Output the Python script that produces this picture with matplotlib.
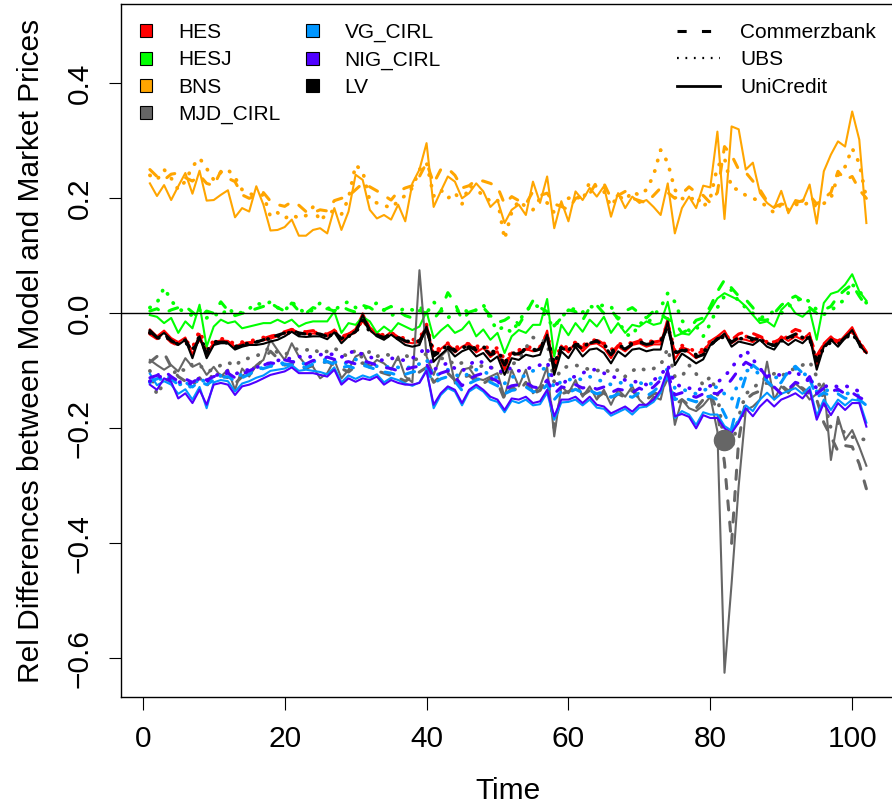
import matplotlib
matplotlib.use("Agg")
import matplotlib.pyplot as plt
from matplotlib.patches import Patch
from matplotlib.lines import Line2D

plt.rcParams['font.family'] = ['Liberation Sans', 'DejaVu Sans']

# time index 1..102
time = list(range(1, 103))

# ---- BNS (orange)
bns_cb = [0.250, 0.238, 0.232, 0.242, 0.244, 0.236, 0.230, 0.240, 0.226, 0.222,
          0.247, 0.235, 0.229, 0.206, 0.200, 0.205, 0.210, 0.195, 0.189, 0.186,
          0.194, 0.188, 0.177, 0.175, 0.180, 0.178, 0.196, 0.200, 0.204, 0.215,
          0.226, 0.220, 0.213, 0.205, 0.197, 0.212, 0.218, 0.222, 0.238, 0.262,
          0.226, 0.250, 0.252, 0.240, 0.218, 0.222, 0.232, 0.230, 0.226, 0.220,
          0.190, 0.203, 0.196, 0.190, 0.212, 0.205, 0.209, 0.190, 0.186, 0.180,
          0.200, 0.203, 0.208, 0.229, 0.226, 0.200, 0.205, 0.212, 0.200, 0.196,
          0.192, 0.205, 0.218, 0.210, 0.200, 0.208, 0.220, 0.210, 0.205, 0.192,
          0.210, 0.290, 0.275, 0.250, 0.245, 0.230, 0.215, 0.195, 0.185, 0.190,
          0.188, 0.192, 0.196, 0.205, 0.190, 0.200, 0.210, 0.247, 0.232, 0.238,
          0.215, 0.200]
bns_ubs = [0.240, 0.232, 0.250, 0.235, 0.215, 0.230, 0.255, 0.270, 0.252, 0.232,
           0.245, 0.250, 0.236, 0.215, 0.208, 0.205, 0.206, 0.168, 0.175, 0.165,
           0.172, 0.165, 0.170, 0.185, 0.160, 0.175, 0.178, 0.172, 0.200, 0.258,
           0.247, 0.196, 0.192, 0.188, 0.183, 0.195, 0.205, 0.218, 0.250, 0.262,
           0.204, 0.215, 0.200, 0.210, 0.190, 0.222, 0.215, 0.205, 0.195, 0.198,
           0.129, 0.176, 0.196, 0.185, 0.180, 0.200, 0.192, 0.175, 0.190, 0.200,
           0.205, 0.196, 0.229, 0.220, 0.212, 0.186, 0.205, 0.196, 0.212, 0.205,
           0.215, 0.240, 0.284, 0.262, 0.215, 0.200, 0.195, 0.205, 0.185, 0.200,
           0.255, 0.270, 0.218, 0.215, 0.205, 0.200, 0.195, 0.185, 0.175, 0.190,
           0.180, 0.190, 0.186, 0.195, 0.185, 0.191, 0.200, 0.240, 0.255, 0.287,
           0.261, 0.200]
bns_uc = [0.226, 0.204, 0.223, 0.197, 0.221, 0.244, 0.208, 0.248, 0.196, 0.197,
          0.206, 0.214, 0.167, 0.183, 0.177, 0.221, 0.189, 0.144, 0.145, 0.150,
          0.163, 0.135, 0.135, 0.145, 0.148, 0.139, 0.183, 0.145, 0.177, 0.241,
          0.232, 0.180, 0.165, 0.171, 0.163, 0.189, 0.160, 0.226, 0.250, 0.296,
          0.185, 0.212, 0.238, 0.229, 0.200, 0.209, 0.226, 0.212, 0.185, 0.197,
          0.157, 0.180, 0.189, 0.171, 0.229, 0.192, 0.238, 0.148, 0.195, 0.160,
          0.212, 0.197, 0.218, 0.203, 0.221, 0.168, 0.209, 0.183, 0.203, 0.192,
          0.197, 0.185, 0.171, 0.226, 0.139, 0.183, 0.203, 0.183, 0.222, 0.219,
          0.316, 0.164, 0.325, 0.320, 0.250, 0.262, 0.209, 0.192, 0.183, 0.213,
          0.174, 0.197, 0.194, 0.224, 0.156, 0.247, 0.276, 0.299, 0.290, 0.351,
          0.302, 0.157]

# ---- HESJ (green)
hesj_cb = [0.004, 0.008, 0.000, 0.006, 0.010, 0.012, 0.002, -0.008, 0.004, 0.000,
           0.020, 0.005, -0.004, 0.000, 0.004, 0.008, 0.012, 0.018, 0.010, 0.004,
           0.018, 0.004, 0.000, 0.010, 0.006, 0.008, 0.004, 0.012, 0.006, 0.002,
           0.014, 0.010, 0.002, 0.006, 0.012, 0.004, -0.004, -0.008, 0.005, 0.000,
           -0.010, 0.005, 0.036, 0.018, -0.012, 0.002, 0.006, 0.010, -0.004, -0.016,
           -0.012, -0.004, -0.020, 0.000, 0.022, 0.010, 0.003, -0.022, -0.008, 0.006,
           0.003, -0.012, 0.010, 0.014, 0.000, 0.006, -0.010, 0.004, 0.010, 0.000,
           -0.008, 0.004, -0.002, -0.010, -0.016, -0.034, -0.028, -0.012, -0.008, 0.012,
           0.038, 0.058, 0.044, 0.030, 0.024, 0.010, -0.011, -0.012, 0.000, 0.014,
           0.024, 0.030, 0.022, 0.010, 0.000, 0.006, 0.012, 0.030, 0.041, 0.050,
           0.030, 0.012]
hesj_ubs = [0.010, 0.018, 0.045, 0.022, 0.008, 0.002, -0.004, 0.006, -0.008, 0.000,
            -0.006, 0.010, -0.002, 0.002, 0.008, 0.018, 0.014, 0.020, 0.010, 0.004,
            0.020, 0.008, 0.000, 0.006, 0.018, 0.010, 0.004, 0.016, 0.020, 0.010,
            0.008, 0.012, 0.018, 0.006, -0.004, 0.002, 0.010, 0.006, 0.012, 0.000,
            0.020, 0.006, -0.008, 0.002, 0.010, 0.000, 0.006, 0.015, -0.010, -0.030,
            -0.022, -0.034, -0.014, 0.004, 0.016, 0.010, -0.010, -0.024, -0.006, 0.004,
            0.009, 0.002, 0.012, 0.010, 0.015, 0.012, -0.010, -0.036, -0.040, -0.016,
            -0.020, -0.004, 0.010, 0.035, 0.020, -0.012, -0.030, -0.022, -0.040, -0.018,
            0.010, 0.030, 0.041, 0.020, 0.010, 0.000, -0.008, -0.004, 0.004, 0.000,
            0.012, 0.020, 0.028, 0.020, 0.006, -0.002, 0.004, 0.016, 0.024, 0.050,
            0.040, 0.018]
hesj_uc = [-0.003, -0.006, -0.017, -0.008, -0.034, -0.014, -0.026, 0.015, -0.058, -0.023,
           -0.011, -0.017, -0.014, -0.026, -0.023, -0.020, -0.017, -0.017, -0.011, -0.017,
           -0.011, -0.023, -0.017, -0.014, -0.014, -0.014, 0.003, -0.034, -0.017, -0.020,
           -0.006, -0.014, -0.034, -0.023, -0.032, -0.017, -0.023, -0.029, -0.023, 0.003,
           -0.043, -0.030, -0.020, -0.034, -0.028, -0.014, -0.040, -0.028, -0.046, -0.034,
           -0.069, -0.040, -0.029, -0.034, -0.020, -0.020, 0.025, -0.075, -0.020, -0.038,
           -0.017, -0.032, -0.011, -0.023, -0.006, -0.034, -0.017, -0.034, -0.020, -0.023,
           -0.014, -0.020, -0.017, 0.020, -0.040, -0.035, -0.037, -0.023, -0.014, 0.006,
           0.026, 0.035, 0.029, 0.023, 0.012, -0.003, -0.017, -0.014, -0.023, 0.006,
           0.018, 0.000, -0.006, 0.006, -0.046, 0.018, 0.034, 0.038, 0.050, 0.068,
           0.038, 0.022]

# ---- HES (red)
hes_cb = [-0.036, -0.044, -0.038, -0.050, -0.056, -0.048, -0.066, -0.044, -0.068, -0.054,
          -0.050, -0.050, -0.060, -0.056, -0.054, -0.048, -0.044, -0.040, -0.036, -0.032,
          -0.028, -0.030, -0.032, -0.030, -0.034, -0.036, -0.030, -0.040, -0.036, -0.030,
          -0.012, -0.028, -0.036, -0.040, -0.036, -0.042, -0.046, -0.050, -0.048, -0.026,
          -0.070, -0.064, -0.056, -0.064, -0.060, -0.056, -0.062, -0.058, -0.070, -0.066,
          -0.086, -0.072, -0.068, -0.062, -0.064, -0.060, -0.040, -0.090, -0.060, -0.064,
          -0.052, -0.060, -0.050, -0.046, -0.054, -0.070, -0.056, -0.060, -0.052, -0.048,
          -0.052, -0.050, -0.048, -0.020, -0.070, -0.060, -0.064, -0.070, -0.066, -0.050,
          -0.044, -0.038, -0.046, -0.036, -0.032, -0.035, -0.040, -0.046, -0.050, -0.044,
          -0.036, -0.028, -0.032, -0.040, -0.074, -0.054, -0.044, -0.048, -0.040, -0.030,
          -0.048, -0.068]
hes_ubs = [-0.034, -0.040, -0.036, -0.046, -0.052, -0.046, -0.060, -0.030, -0.062, -0.048,
           -0.044, -0.046, -0.054, -0.050, -0.048, -0.046, -0.042, -0.040, -0.038, -0.034,
           -0.030, -0.036, -0.034, -0.032, -0.036, -0.038, -0.030, -0.042, -0.038, -0.032,
           -0.010, -0.030, -0.034, -0.038, -0.034, -0.040, -0.044, -0.046, -0.044, -0.020,
           -0.066, -0.060, -0.052, -0.060, -0.056, -0.052, -0.058, -0.054, -0.064, -0.060,
           -0.080, -0.068, -0.064, -0.058, -0.060, -0.058, -0.036, -0.084, -0.056, -0.060,
           -0.050, -0.056, -0.048, -0.046, -0.052, -0.064, -0.052, -0.056, -0.050, -0.046,
           -0.050, -0.048, -0.046, -0.018, -0.066, -0.056, -0.060, -0.068, -0.062, -0.048,
           -0.042, -0.036, -0.048, -0.040, -0.040, -0.044, -0.042, -0.050, -0.054, -0.046,
           -0.040, -0.036, -0.040, -0.042, -0.080, -0.056, -0.048, -0.050, -0.042, -0.032,
           -0.050, -0.070]
hes_uc = [-0.028, -0.040, -0.030, -0.043, -0.050, -0.042, -0.072, -0.036, -0.074, -0.050,
          -0.047, -0.048, -0.058, -0.052, -0.050, -0.050, -0.047, -0.044, -0.040, -0.034,
          -0.027, -0.034, -0.036, -0.035, -0.036, -0.040, -0.028, -0.047, -0.036, -0.027,
          0.000, -0.024, -0.035, -0.042, -0.032, -0.041, -0.050, -0.052, -0.050, -0.018,
          -0.075, -0.062, -0.052, -0.068, -0.058, -0.052, -0.068, -0.060, -0.076, -0.066,
          -0.098, -0.068, -0.072, -0.062, -0.066, -0.063, -0.030, -0.098, -0.056, -0.068,
          -0.050, -0.066, -0.054, -0.052, -0.060, -0.078, -0.058, -0.066, -0.055, -0.052,
          -0.058, -0.054, -0.054, -0.008, -0.080, -0.062, -0.068, -0.078, -0.070, -0.048,
          -0.040, -0.030, -0.052, -0.044, -0.046, -0.050, -0.040, -0.052, -0.056, -0.040,
          -0.048, -0.040, -0.046, -0.034, -0.090, -0.052, -0.040, -0.052, -0.038, -0.024,
          -0.050, -0.066]

# ---- MJD_CIRL (grey)
mjd_cb = [-0.085, -0.075, -0.069, -0.093, -0.110, -0.118, -0.125, -0.112, -0.128, -0.100,
          -0.108, -0.112, -0.122, -0.110, -0.100, -0.092, -0.080, -0.066, -0.078, -0.090,
          -0.088, -0.092, -0.096, -0.090, -0.087, -0.084, -0.090, -0.096, -0.102, -0.092,
          -0.086, -0.094, -0.100, -0.104, -0.108, -0.112, -0.118, -0.110, -0.102, -0.094,
          -0.120, -0.110, -0.104, -0.116, -0.112, -0.108, -0.118, -0.122, -0.114, -0.120,
          -0.150, -0.128, -0.136, -0.120, -0.140, -0.134, -0.112, -0.200, -0.140, -0.136,
          -0.130, -0.142, -0.134, -0.146, -0.138, -0.150, -0.140, -0.146, -0.134, -0.148,
          -0.150, -0.140, -0.138, -0.112, -0.160, -0.150, -0.160, -0.165, -0.150, -0.140,
          -0.170, -0.260, -0.400, -0.220, -0.150, -0.140, -0.135, -0.120, -0.130, -0.125,
          -0.135, -0.125, -0.130, -0.140, -0.150, -0.190, -0.214, -0.240, -0.230, -0.232,
          -0.262, -0.305]
mjd_ubs = [-0.100, -0.142, -0.120, -0.110, -0.095, -0.100, -0.088, -0.090, -0.101, -0.098,
           -0.090, -0.085, -0.092, -0.080, -0.078, -0.075, -0.066, -0.060, -0.068, -0.072,
           -0.065, -0.061, -0.064, -0.061, -0.070, -0.066, -0.060, -0.070, -0.075, -0.064,
           -0.078, -0.066, -0.075, -0.070, -0.074, -0.080, -0.072, -0.082, -0.078, -0.070,
           -0.085, -0.078, -0.080, -0.090, -0.086, -0.092, -0.096, -0.090, -0.094, -0.098,
           -0.110, -0.090, -0.080, -0.060, -0.042, -0.046, -0.050, -0.120, -0.096, -0.092,
           -0.090, -0.094, -0.098, -0.100, -0.096, -0.104, -0.098, -0.110, -0.100, -0.094,
           -0.100, -0.096, -0.090, -0.061, -0.110, -0.110, -0.090, -0.105, -0.125, -0.110,
           -0.140, -0.230, -0.237, -0.180, -0.140, -0.130, -0.120, -0.110, -0.105, -0.110,
           -0.100, -0.096, -0.090, -0.084, -0.110, -0.150, -0.200, -0.190, -0.210, -0.215,
           -0.218, -0.220]
mjd_uc = [-0.081, -0.090, -0.098, -0.090, -0.101, -0.078, -0.093, -0.087, -0.107, -0.093,
          -0.110, -0.098, -0.133, -0.096, -0.110, -0.090, -0.081, -0.046, -0.064, -0.081,
          -0.052, -0.075, -0.090, -0.093, -0.113, -0.104, -0.081, -0.113, -0.098, -0.075,
          -0.069, -0.093, -0.081, -0.087, -0.098, -0.075, -0.110, -0.120, 0.075, -0.075,
          -0.107, -0.075, -0.063, -0.122, -0.098, -0.095, -0.113, -0.116, -0.110, -0.104,
          -0.145, -0.098, -0.127, -0.098, -0.139, -0.127, -0.093, -0.214, -0.127, -0.139,
          -0.116, -0.145, -0.127, -0.150, -0.133, -0.159, -0.133, -0.145, -0.127, -0.150,
          -0.162, -0.145, -0.150, -0.098, -0.194, -0.150, -0.165, -0.170, -0.160, -0.145,
          -0.205, -0.625, -0.470, -0.300, -0.168, -0.162, -0.150, -0.084, -0.150, -0.127,
          -0.139, -0.122, -0.133, -0.150, -0.140, -0.122, -0.255, -0.180, -0.220, -0.203,
          -0.232, -0.265]

# ---- VG_CIRL (light blue)
vg_cb = [-0.118, -0.114, -0.106, -0.114, -0.124, -0.120, -0.128, -0.118, -0.124, -0.116,
         -0.112, -0.110, -0.118, -0.112, -0.106, -0.100, -0.096, -0.092, -0.094, -0.088,
         -0.090, -0.092, -0.094, -0.088, -0.086, -0.084, -0.088, -0.094, -0.092, -0.096,
         -0.090, -0.094, -0.098, -0.102, -0.104, -0.108, -0.106, -0.102, -0.100, -0.096,
         -0.122, -0.114, -0.110, -0.118, -0.134, -0.122, -0.116, -0.112, -0.120, -0.126,
         -0.140, -0.134, -0.132, -0.128, -0.136, -0.138, -0.124, -0.150, -0.136, -0.138,
         -0.132, -0.138, -0.134, -0.140, -0.136, -0.146, -0.140, -0.142, -0.146, -0.138,
         -0.144, -0.136, -0.124, -0.110, -0.150, -0.146, -0.150, -0.154, -0.146, -0.144,
         -0.150, -0.175, -0.200, -0.150, -0.110, -0.090, -0.100, -0.118, -0.130, -0.120,
         -0.100, -0.092, -0.104, -0.114, -0.146, -0.138, -0.144, -0.140, -0.148, -0.146,
         -0.150, -0.160]
vg_ubs = [-0.120, -0.116, -0.112, -0.120, -0.124, -0.122, -0.130, -0.110, -0.124, -0.114,
          -0.108, -0.106, -0.112, -0.106, -0.102, -0.098, -0.094, -0.090, -0.088, -0.086,
          -0.084, -0.086, -0.088, -0.084, -0.082, -0.080, -0.084, -0.088, -0.086, -0.080,
          -0.084, -0.088, -0.092, -0.094, -0.092, -0.094, -0.096, -0.092, -0.088, -0.080,
          -0.110, -0.104, -0.098, -0.106, -0.112, -0.104, -0.098, -0.100, -0.108, -0.112,
          -0.122, -0.110, -0.112, -0.108, -0.100, -0.098, -0.095, -0.130, -0.118, -0.116,
          -0.112, -0.116, -0.110, -0.116, -0.118, -0.124, -0.120, -0.122, -0.126, -0.120,
          -0.126, -0.120, -0.112, -0.096, -0.130, -0.132, -0.136, -0.140, -0.134, -0.130,
          -0.128, -0.140, -0.150, -0.120, -0.100, -0.098, -0.106, -0.116, -0.112, -0.110,
          -0.104, -0.096, -0.104, -0.110, -0.136, -0.132, -0.136, -0.134, -0.140, -0.138,
          -0.144, -0.150]
vg_uc = [-0.105, -0.125, -0.118, -0.124, -0.140, -0.132, -0.150, -0.128, -0.165, -0.120,
         -0.116, -0.118, -0.136, -0.122, -0.118, -0.112, -0.108, -0.100, -0.098, -0.096,
         -0.090, -0.100, -0.098, -0.100, -0.102, -0.106, -0.094, -0.120, -0.108, -0.114,
         -0.108, -0.112, -0.106, -0.120, -0.112, -0.116, -0.122, -0.126, -0.120, -0.098,
         -0.165, -0.142, -0.130, -0.136, -0.160, -0.136, -0.128, -0.136, -0.150, -0.154,
         -0.172, -0.152, -0.156, -0.150, -0.160, -0.158, -0.138, -0.185, -0.155, -0.154,
         -0.150, -0.160, -0.150, -0.164, -0.166, -0.178, -0.172, -0.166, -0.176, -0.164,
         -0.162, -0.154, -0.138, -0.100, -0.182, -0.170, -0.176, -0.194, -0.172, -0.176,
         -0.176, -0.196, -0.204, -0.186, -0.160, -0.170, -0.150, -0.138, -0.150, -0.140,
         -0.135, -0.130, -0.140, -0.128, -0.178, -0.150, -0.168, -0.150, -0.160, -0.150,
         -0.152, -0.190]

# ---- NIG_CIRL (purple)
nig_cb = [-0.112, -0.108, -0.100, -0.110, -0.118, -0.114, -0.120, -0.112, -0.116, -0.110,
          -0.107, -0.104, -0.112, -0.106, -0.100, -0.094, -0.090, -0.086, -0.088, -0.081,
          -0.084, -0.086, -0.088, -0.082, -0.080, -0.076, -0.080, -0.086, -0.084, -0.088,
          -0.082, -0.086, -0.090, -0.094, -0.096, -0.100, -0.098, -0.094, -0.092, -0.088,
          -0.112, -0.104, -0.100, -0.110, -0.126, -0.114, -0.108, -0.104, -0.112, -0.118,
          -0.132, -0.126, -0.124, -0.120, -0.128, -0.130, -0.116, -0.140, -0.128, -0.130,
          -0.124, -0.130, -0.126, -0.132, -0.128, -0.138, -0.132, -0.134, -0.138, -0.130,
          -0.136, -0.128, -0.116, -0.104, -0.142, -0.138, -0.142, -0.146, -0.140, -0.138,
          -0.140, -0.130, -0.115, -0.098, -0.085, -0.092, -0.095, -0.112, -0.128, -0.140,
          -0.132, -0.120, -0.124, -0.110, -0.140, -0.130, -0.136, -0.132, -0.140, -0.138,
          -0.146, -0.152]
nig_ubs = [-0.118, -0.112, -0.108, -0.116, -0.120, -0.118, -0.124, -0.112, -0.118, -0.110,
           -0.104, -0.100, -0.106, -0.100, -0.098, -0.094, -0.090, -0.086, -0.082, -0.080,
           -0.078, -0.075, -0.078, -0.074, -0.072, -0.070, -0.072, -0.076, -0.070, -0.064,
           -0.072, -0.076, -0.080, -0.082, -0.078, -0.080, -0.082, -0.078, -0.070, -0.058,
           -0.098, -0.092, -0.086, -0.096, -0.101, -0.090, -0.081, -0.086, -0.094, -0.098,
           -0.104, -0.093, -0.100, -0.098, -0.092, -0.090, -0.085, -0.120, -0.127, -0.112,
           -0.110, -0.104, -0.098, -0.098, -0.104, -0.110, -0.112, -0.116, -0.118, -0.120,
           -0.124, -0.116, -0.108, -0.090, -0.122, -0.128, -0.130, -0.134, -0.130, -0.126,
           -0.120, -0.110, -0.095, -0.078, -0.064, -0.080, -0.096, -0.110, -0.105, -0.108,
           -0.104, -0.100, -0.112, -0.118, -0.130, -0.128, -0.124, -0.128, -0.126, -0.130,
           -0.136, -0.140]
nig_uc = [-0.124, -0.133, -0.113, -0.119, -0.148, -0.139, -0.156, -0.133, -0.159, -0.124,
          -0.121, -0.124, -0.142, -0.127, -0.124, -0.119, -0.113, -0.107, -0.104, -0.101,
          -0.094, -0.104, -0.104, -0.104, -0.107, -0.110, -0.098, -0.124, -0.113, -0.119,
          -0.113, -0.116, -0.110, -0.124, -0.116, -0.121, -0.124, -0.124, -0.121, -0.100,
          -0.159, -0.139, -0.127, -0.133, -0.156, -0.133, -0.124, -0.133, -0.145, -0.150,
          -0.168, -0.148, -0.150, -0.145, -0.156, -0.153, -0.133, -0.179, -0.150, -0.150,
          -0.145, -0.156, -0.145, -0.159, -0.162, -0.174, -0.168, -0.162, -0.171, -0.159,
          -0.159, -0.150, -0.133, -0.098, -0.179, -0.175, -0.180, -0.200, -0.177, -0.182,
          -0.182, -0.200, -0.208, -0.190, -0.165, -0.179, -0.162, -0.150, -0.162, -0.150,
          -0.145, -0.139, -0.148, -0.133, -0.185, -0.156, -0.177, -0.156, -0.168, -0.156,
          -0.156, -0.197]

# ---- LV (black)
lv_cb = [-0.030, -0.042, -0.036, -0.048, -0.054, -0.046, -0.068, -0.042, -0.070, -0.052,
         -0.050, -0.050, -0.060, -0.056, -0.052, -0.050, -0.046, -0.042, -0.038, -0.034,
         -0.030, -0.034, -0.036, -0.034, -0.036, -0.040, -0.032, -0.044, -0.038, -0.032,
         -0.008, -0.030, -0.038, -0.042, -0.036, -0.042, -0.048, -0.052, -0.050, -0.024,
         -0.074, -0.066, -0.058, -0.066, -0.062, -0.058, -0.064, -0.060, -0.072, -0.068,
         -0.090, -0.072, -0.070, -0.064, -0.066, -0.062, -0.042, -0.094, -0.060, -0.066,
         -0.054, -0.062, -0.052, -0.048, -0.056, -0.072, -0.058, -0.062, -0.054, -0.050,
         -0.054, -0.052, -0.050, -0.024, -0.070, -0.064, -0.068, -0.076, -0.072, -0.056,
         -0.044, -0.040, -0.050, -0.042, -0.040, -0.044, -0.046, -0.052, -0.056, -0.048,
         -0.042, -0.036, -0.040, -0.044, -0.082, -0.060, -0.046, -0.054, -0.042, -0.032,
         -0.052, -0.072]
lv_ubs = [-0.034, -0.044, -0.038, -0.048, -0.054, -0.050, -0.064, -0.040, -0.066, -0.050,
          -0.048, -0.052, -0.058, -0.054, -0.052, -0.050, -0.046, -0.044, -0.040, -0.036,
          -0.032, -0.036, -0.038, -0.036, -0.038, -0.042, -0.034, -0.044, -0.040, -0.034,
          -0.012, -0.032, -0.038, -0.042, -0.038, -0.044, -0.048, -0.050, -0.048, -0.026,
          -0.070, -0.064, -0.056, -0.064, -0.060, -0.056, -0.062, -0.058, -0.068, -0.064,
          -0.086, -0.070, -0.068, -0.062, -0.064, -0.060, -0.040, -0.088, -0.058, -0.064,
          -0.052, -0.060, -0.050, -0.048, -0.054, -0.068, -0.056, -0.060, -0.052, -0.050,
          -0.052, -0.050, -0.050, -0.022, -0.068, -0.062, -0.066, -0.072, -0.068, -0.054,
          -0.046, -0.040, -0.050, -0.044, -0.044, -0.046, -0.046, -0.052, -0.056, -0.048,
          -0.044, -0.038, -0.042, -0.044, -0.084, -0.060, -0.050, -0.054, -0.044, -0.034,
          -0.054, -0.072]
lv_uc = [-0.032, -0.043, -0.034, -0.046, -0.055, -0.046, -0.078, -0.040, -0.078, -0.055,
         -0.052, -0.052, -0.063, -0.058, -0.055, -0.055, -0.053, -0.049, -0.046, -0.040,
         -0.032, -0.040, -0.041, -0.040, -0.040, -0.045, -0.033, -0.052, -0.040, -0.032,
         -0.003, -0.029, -0.040, -0.046, -0.037, -0.046, -0.055, -0.058, -0.055, -0.023,
         -0.084, -0.072, -0.061, -0.075, -0.066, -0.061, -0.075, -0.069, -0.084, -0.075,
         -0.107, -0.078, -0.081, -0.072, -0.075, -0.072, -0.037, -0.107, -0.066, -0.078,
         -0.058, -0.075, -0.063, -0.061, -0.069, -0.087, -0.066, -0.075, -0.063, -0.061,
         -0.066, -0.063, -0.063, -0.014, -0.090, -0.070, -0.078, -0.087, -0.080, -0.055,
         -0.046, -0.035, -0.058, -0.049, -0.052, -0.055, -0.046, -0.058, -0.063, -0.046,
         -0.055, -0.046, -0.052, -0.040, -0.098, -0.058, -0.046, -0.058, -0.043, -0.029,
         -0.055, -0.069]

models = ["HES", "HESJ", "BNS", "MJD_CIRL", "VG_CIRL", "NIG_CIRL", "LV"]
model_colors = ["#FF0000", "#00FF00", "#FFA500", "#666666", "#0096FF", "#5000FF", "#000000"]
banks = ["Commerzbank", "UBS", "UniCredit"]

series = {
    "HES": [hes_cb, hes_ubs, hes_uc],
    "HESJ": [hesj_cb, hesj_ubs, hesj_uc],
    "BNS": [bns_cb, bns_ubs, bns_uc],
    "MJD_CIRL": [mjd_cb, mjd_ubs, mjd_uc],
    "VG_CIRL": [vg_cb, vg_ubs, vg_uc],
    "NIG_CIRL": [nig_cb, nig_ubs, nig_uc],
    "LV": [lv_cb, lv_ubs, lv_uc],
}

# the one highlighted outlier
mark_t = [82]
mark_v = [-0.22]

yticks = [-0.6, -0.4, -0.2, 0.0, 0.2, 0.4]
ytick_labels = ["\u22120.6", "\u22120.4", "\u22120.2", "0.0", "0.2", "0.4"]
xticks = [0, 20, 40, 60, 80, 100]

fig = plt.figure(figsize=(8.92, 8.09), dpi=100)
ax = fig.add_axes([0.1359, 0.1381, 0.8675, 0.8564])

# style per bank: dashed, dotted, solid
bank_styles = [
    dict(linestyle=(0, (3, 4)), linewidth=2.2, dash_capstyle="round"),
    dict(linestyle=(0, (0.1, 2.8)), linewidth=2.7, dash_capstyle="round"),
    dict(linestyle="-", linewidth=1.5),
]

for m, col in zip(models, model_colors):
    for vals, st in zip(series[m], bank_styles):
        ax.plot(time, vals, color=col, **st)

ax.axhline(0, color="black", linewidth=1.0)
ax.plot(mark_t, mark_v, "o", color="#666666", markersize=14.5)

ax.set_xlim(-3.04, 106.04)
ax.set_ylim(-0.6676, 0.5371)
ax.set_xticks(xticks)
ax.set_xticklabels([str(x) for x in xticks])
ax.set_yticks(yticks)
ax.set_yticklabels(ytick_labels, rotation=90, va="center")
ax.tick_params(axis="both", direction="out", length=9, width=0.8, labelsize=21.5)
ax.tick_params(axis="x", pad=11)
ax.tick_params(axis="y", pad=11)
for s in ax.spines.values():
    s.set_linewidth(1.0)

ax.set_xlabel("Time", fontsize=21.5, labelpad=17)
ax.set_ylabel("Rel Differences between Model and Market Prices", fontsize=21.5, labelpad=15)

# legend: models (colour boxes)
model_handles = [Patch(facecolor=c, edgecolor="black", linewidth=0.8) for c in model_colors]
leg1 = ax.legend(model_handles, models, loc="upper left", bbox_to_anchor=(0.0243, 0.973),
                 ncol=2, frameon=False, fontsize=15, handlelength=0.58, handleheight=0.58,
                 handletextpad=1.25, columnspacing=1.25, labelspacing=0.4,
                 borderpad=0, borderaxespad=0)
ax.add_artist(leg1)

# legend: banks (line types)
bank_handles = [
    Line2D([0], [0], color="black", linestyle=(0, (3, 5)), linewidth=2.2),
    Line2D([0], [0], color="black", linestyle=(0, (0.8, 3)), linewidth=1.6),
    Line2D([0], [0], color="black", linestyle="-", linewidth=2.0),
]
ax.legend(bank_handles, banks, loc="upper left", bbox_to_anchor=(0.7183, 0.973),
          frameon=False, fontsize=15, handlelength=2.07, handletextpad=0.96,
          labelspacing=0.4, borderpad=0, borderaxespad=0)

fig.savefig("out.png", dpi=100)
